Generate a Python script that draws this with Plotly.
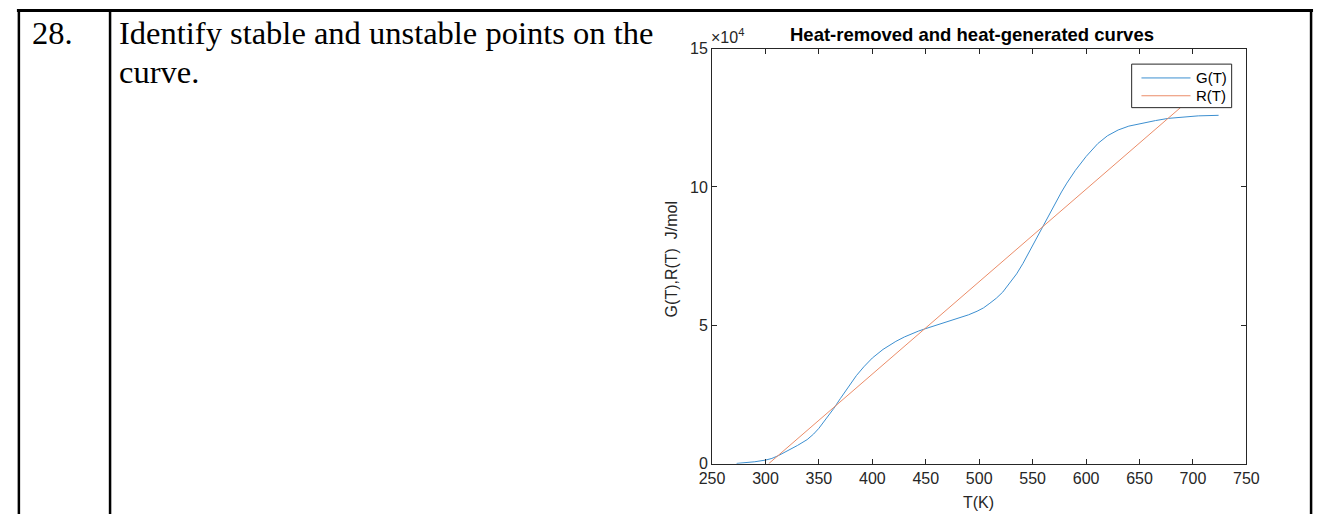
import plotly.graph_objects as go

W, H = 1328, 523

# Data (T in K, values in J/mol)
T_G = [273, 280, 290, 300, 306, 312, 320, 330, 339, 345, 350, 357, 364, 370, 375, 380, 385, 392,
       400, 410, 422, 430, 437, 443, 449, 456, 463, 470, 477, 484, 490, 498, 504, 510, 516, 522,
       528, 535, 541, 547, 553, 559, 565, 571, 577, 582, 590, 600, 605, 611, 620, 630, 640, 651,
       665, 677, 690, 705, 724]
G_vals = [100, 300, 700, 1300, 1900, 2900, 4500, 6600, 8700, 10700, 12800, 16200, 20000, 23500,
          26400, 29200, 31800, 35000, 38200, 41300, 44200, 45800, 47000, 47900, 48700, 49600,
          50500, 51400, 52200, 53000, 53800, 55100, 56300, 58000, 59800, 62000, 65000, 68600,
          72400, 76700, 81200, 85600, 90000, 94200, 98200, 101400, 106000, 111000, 113300,
          115700, 118500, 120600, 122000, 123000, 124000, 124800, 125300, 125700, 125900]
T_R = [303, 724]
R_vals = [0, 140600]

series_names = ["G(T)", "R(T)"]
series_colors = ["#3C8FD0", "#EB8C68"]

x_ticks = [250, 300, 350, 400, 450, 500, 550, 600, 650, 700, 750]
y_tickvals = [0, 50000, 100000, 150000]
y_ticktext = ["0", "5", "10", "15"]

AX = "#262626"
SANS = "Liberation Sans, Arial, sans-serif"
SERIF = "Liberation Serif, Times New Roman, serif"

def px(x):
    return x / W

def py(y):
    return 1 - y / H

fig = go.Figure()
fig.add_trace(go.Scatter(x=T_G, y=G_vals, mode="lines", name=series_names[0],
                         line=dict(color=series_colors[0], width=1)))
fig.add_trace(go.Scatter(x=T_R, y=R_vals, mode="lines", name=series_names[1],
                         line=dict(color=series_colors[1], width=1)))

x0, x1 = 713, 1258
y0, y1 = 471, 42

fig.update_layout(
    width=W, height=H,
    margin=dict(l=0, r=0, t=0, b=0),
    paper_bgcolor="white", plot_bgcolor="white",
    font=dict(family=SANS, color=AX, size=16),
    showlegend=False,
    xaxis=dict(domain=[px(x0), px(x1)], range=[250, 750], tickvals=x_ticks,
               ticks="inside", ticklen=5, tickcolor=AX, showline=True, linecolor=AX,
               linewidth=1, mirror="ticks", showgrid=False, zeroline=False,
               tickfont=dict(size=16, color=AX)),
    yaxis=dict(domain=[py(y0), py(y1)], range=[0, 150000], tickvals=y_tickvals,
               ticktext=y_ticktext, ticks="inside", ticklen=5, tickcolor=AX,
               showline=True, linecolor=AX, linewidth=1, mirror="ticks",
               showgrid=False, zeroline=False, tickfont=dict(size=16, color=AX)),
)

ann = [
    dict(text="<b>Heat-removed and heat-generated curves</b>", x=px(978), y=py(27),
         font=dict(size=18.5, color="#000000", family=SANS)),
    dict(text="×10<sup>4</sup>", x=px(710), y=py(41), xanchor="left", yanchor="bottom",
         font=dict(size=16, color=AX, family=SANS)),
    dict(text="G(T),R(T)  J/mol", x=px(672), y=py(260), textangle=-90,
         font=dict(size=16, color=AX, family=SANS)),
    dict(text="T(K)", x=px(985), y=py(511), font=dict(size=16, color=AX, family=SANS)),
    dict(text="28.", x=px(17), y=py(26), xanchor="left",
         font=dict(size=32.5, color="#000000", family=SERIF)),
    dict(text="Identify stable and unstable points on the", x=px(106), y=py(26), xanchor="left",
         font=dict(size=32.5, color="#000000", family=SERIF)),
    dict(text="curve.", x=px(106), y=py(66), xanchor="left",
         font=dict(size=32.5, color="#000000", family=SERIF)),
]

# Table borders
shapes = [
    dict(type="line", x0=px(4), x1=px(1326), y0=py(2.5), y1=py(2.5), line=dict(color="black", width=3)),
    dict(type="line", x0=px(6), x1=px(6), y0=py(1), y1=py(523), line=dict(color="black", width=2.5)),
    dict(type="line", x0=px(99), x1=px(99), y0=py(1), y1=py(523), line=dict(color="black", width=2.5)),
    dict(type="line", x0=px(1324), x1=px(1324), y0=py(1), y1=py(523), line=dict(color="black", width=2.5)),
]

# MATLAB-style legend box (opaque, above the traces)
lg_l, lg_r, lg_t, lg_b = 1141, 1243, 58, 103
shapes.append(dict(type="rect", x0=px(lg_l), x1=px(lg_r), y0=py(lg_b), y1=py(lg_t),
                   fillcolor="white", line=dict(color=AX, width=1), layer="above"))
for i, (nm, col) in enumerate(zip(series_names, series_colors)):
    yy = 72.3 + 18.4 * i
    shapes.append(dict(type="line", x0=px(1151), x1=px(1201), y0=py(yy), y1=py(yy),
                       line=dict(color=col, width=1), layer="above"))
    ann.append(dict(text=nm, x=px(1205), y=py(yy), xanchor="left",
                    font=dict(size=15, color="#000000", family=SANS)))

for a in ann:
    a.setdefault("xanchor", "center")
    a.setdefault("yanchor", "middle")
    a.update(xref="paper", yref="paper", showarrow=False)
for s in shapes:
    s.update(xref="paper", yref="paper")
fig.update_layout(annotations=ann, shapes=shapes)

fig.write_html("out.html", config={"displayModeBar": False},
               post_script="document.documentElement.style.margin='0';document.body.style.margin='0';document.body.style.padding='0';document.body.style.overflow='hidden';")
